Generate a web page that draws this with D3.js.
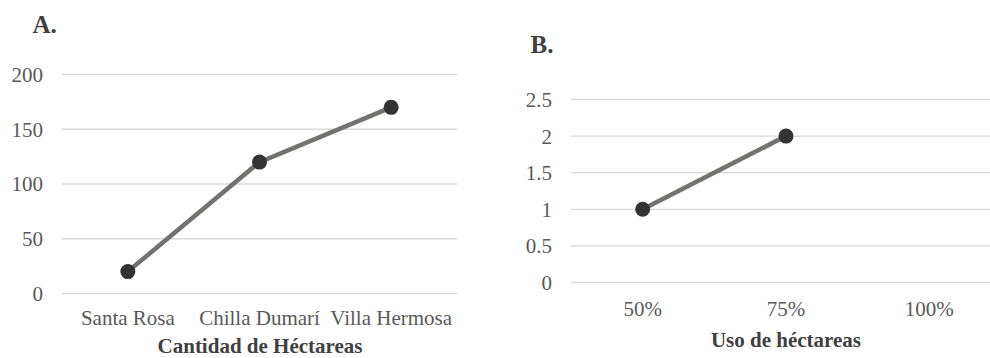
<!DOCTYPE html>
<html><head><meta charset="utf-8">
<script src="https://cdn.jsdelivr.net/npm/d3@7"></script>
<style>body{margin:0;background:#fff;}svg{display:block;font-family:"Liberation Serif","Times New Roman",serif;}svg text{font-family:"Liberation Serif","Times New Roman",serif;}</style>
</head><body>
<svg id="c" width="990" height="358"></svg>
<script>
// Chart A data
const categoriesA = ["Santa Rosa", "Chilla Dumarí", "Villa Hermosa"];
const valuesA = [20, 120, 170];
const ticksA = [0, 50, 100, 150, 200];
// Chart B data
const categoriesB = ["50%", "75%", "100%"];
const valuesB = [1, 2, null];
const ticksB = [0, 0.5, 1, 1.5, 2, 2.5];

const svg = d3.select("#c");
const gridColor = "#d9d9d9", textColor = "#595959", lineColor = "#767171", dotColor = "#333333";
const FONT = "'Liberation Serif','Times New Roman',serif";

function panel(cfg) {
  const g = svg.append("g");
  const x = d3.scaleBand().domain(cfg.cats).range(cfg.xr);
  const y = d3.scaleLinear().domain(cfg.yd).range(cfg.yr);
  g.selectAll("line.grid").data(cfg.ticks).enter().append("line")
    .attr("x1", cfg.xr[0]).attr("x2", cfg.xr[1])
    .attr("y1", d => y(d)).attr("y2", d => y(d))
    .attr("stroke", gridColor).attr("stroke-width", 1.3);
  const ya = g.append("g").attr("transform", `translate(${cfg.yLabelX},0)`)
    .call(d3.axisLeft(y).tickValues(cfg.ticks).tickSize(0).tickPadding(0).tickFormat(d3.format("")))
    .attr("font-family", FONT).attr("font-size", 21);
  ya.select(".domain").remove();
  ya.selectAll("text").attr("fill", textColor).attr("dy", "0.33em");
  const xa = g.append("g").attr("transform", `translate(0,${cfg.xLabelY})`)
    .call(d3.axisBottom(x).tickSize(0).tickPadding(0))
    .attr("font-family", FONT).attr("font-size", 21);
  xa.select(".domain").remove();
  xa.selectAll("text").attr("fill", textColor).attr("dy", "0");
  const pts = cfg.cats.map((c, i) => ({c, v: cfg.vals[i]})).filter(d => d.v != null);
  g.append("path").datum(pts)
    .attr("d", d3.line().x(d => x(d.c) + x.bandwidth() / 2).y(d => y(d.v)))
    .attr("fill", "none").attr("stroke", lineColor).attr("stroke-width", 4.5);
  g.selectAll("circle").data(pts).enter().append("circle")
    .attr("cx", d => x(d.c) + x.bandwidth() / 2).attr("cy", d => y(d.v))
    .attr("r", 7.5).attr("fill", dotColor);
  g.append("text").attr("x", cfg.titleX).attr("y", cfg.titleY).attr("text-anchor", "middle")
    .attr("fill", "#404040").attr("font-family", FONT).attr("font-weight", "bold").attr("font-size", 21).text(cfg.axisTitle);
  g.append("text").attr("x", cfg.labX).attr("y", cfg.labY)
    .attr("fill", "#404040").attr("font-family", FONT).attr("font-weight", "bold").attr("font-size", 25).text(cfg.label);
}

panel({cats: categoriesA, vals: valuesA, ticks: ticksA, yd: [0, 200], yr: [293.5, 74.5],
  xr: [62, 457], yLabelX: 43, xLabelY: 325, axisTitle: "Cantidad de Héctareas", titleX: 260, titleY: 353,
  label: "A.", labX: 32.5, labY: 33});

panel({cats: categoriesB, vals: valuesB, ticks: ticksB, yd: [0, 2.5], yr: [282.5, 99.5],
  xr: [571, 1001], yLabelX: 552, xLabelY: 316, axisTitle: "Uso de héctareas", titleX: 786, titleY: 347,
  label: "B.", labX: 530.5, labY: 53});
</script>
</body></html>
